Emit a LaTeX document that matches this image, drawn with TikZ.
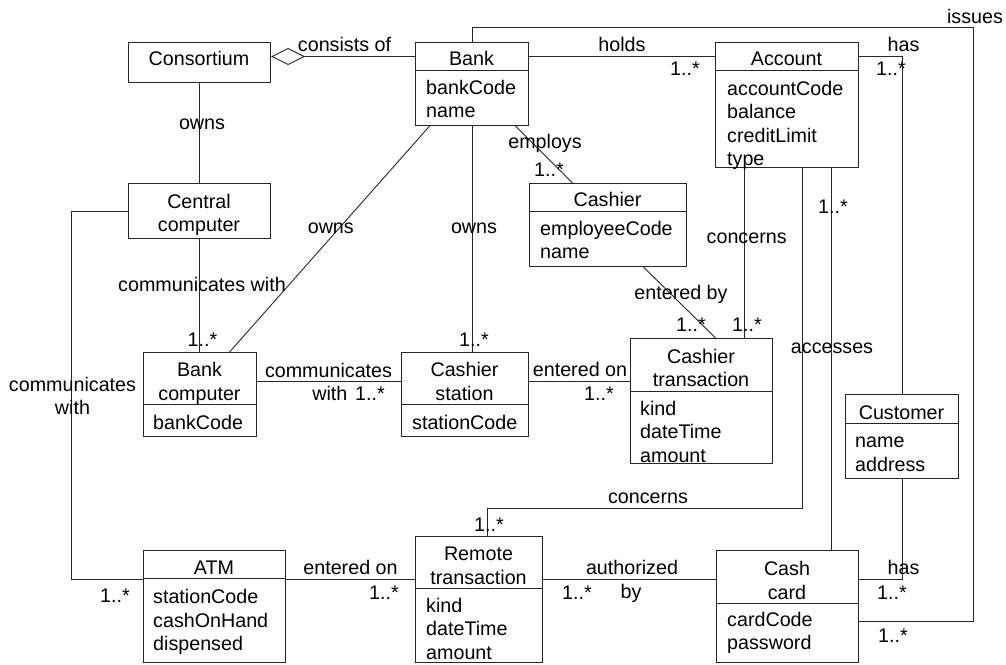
\documentclass[tikz,border=0pt]{standalone}
\usepackage{fontspec}
\setmainfont{Liberation Sans}
\usetikzlibrary{arrows.meta}
\begin{document}
\begin{tikzpicture}[x=1pt,y=-1pt,
  every node/.style={font=\fontsize{19.7}{23.5}\selectfont},
  cls/.style={draw=black!85, line width=1.1pt, inner sep=0pt, anchor=north west},
  ttl/.style={anchor=base, inner sep=0pt},
  attr/.style={anchor=base west, inner sep=0pt},
  lbl/.style={anchor=base, inner sep=0pt},
  assoc/.style={draw=black!85, line width=0.9pt}]
\useasboundingbox (0,0) rectangle (1006,664);

% ---------- classes ----------
\node[cls, minimum width=142pt, minimum height=40pt] (cons) at (128,42) {};
\node[cls, minimum width=142pt, minimum height=55pt] (cc) at (128,183) {};
\node[cls, minimum width=113pt, minimum height=28pt] (bankh) at (415,42) {};
\node[cls, minimum width=113pt, minimum height=55pt] (banka) at (415,70) {};
\node[cls, minimum width=143pt, minimum height=28pt] (acch) at (715,42) {};
\node[cls, minimum width=143pt, minimum height=97pt] (acca) at (715,70) {};
\node[cls, minimum width=157pt, minimum height=28pt] (cashrh) at (529,183) {};
\node[cls, minimum width=157pt, minimum height=55pt] (cashra) at (529,211) {};
\node[cls, minimum width=113pt, minimum height=52pt] (bch) at (143,352) {};
\node[cls, minimum width=113pt, minimum height=32pt] (bca) at (143,404) {};
\node[cls, minimum width=127pt, minimum height=52pt] (csh) at (401,352) {};
\node[cls, minimum width=127pt, minimum height=32pt] (csa) at (401,404) {};
\node[cls, minimum width=142pt, minimum height=53pt] (cth) at (630,338) {};
\node[cls, minimum width=142pt, minimum height=72pt] (cta) at (630,391) {};
\node[cls, minimum width=113pt, minimum height=29pt] (custh) at (845,394) {};
\node[cls, minimum width=113pt, minimum height=55pt] (custa) at (845,423) {};
\node[cls, minimum width=142pt, minimum height=28pt] (atmh) at (143,550) {};
\node[cls, minimum width=142pt, minimum height=84pt] (atma) at (143,578) {};
\node[cls, minimum width=127pt, minimum height=52pt] (remh) at (415,536) {};
\node[cls, minimum width=127pt, minimum height=74pt] (rema) at (415,588) {};
\node[cls, minimum width=142pt, minimum height=53pt] (cardh) at (716,550) {};
\node[cls, minimum width=142pt, minimum height=59pt] (carda) at (716,603) {};

% ---------- titles ----------
\node[ttl] (cons-t) at (199,65.7) {Consortium};
\node[ttl] (cc-t1) at (199,208.3) {Central};
\node[ttl] (cc-t2) at (199,231.7) {computer};
\node[ttl] (bank-t) at (471.5,65.7) {Bank};
\node[ttl] (acc-t) at (786.5,65.7) {Account};
\node[ttl] (cashr-t) at (607.5,206.7) {Cashier};
\node[ttl] (bc-t1) at (199.5,376.7) {Bank};
\node[ttl] (bc-t2) at (199.5,400) {computer};
\node[ttl] (cs-t1) at (464.5,376.7) {Cashier};
\node[ttl] (cs-t2) at (464.5,400.7) {station};
\node[ttl] (ct-t1) at (701,363.3) {Cashier};
\node[ttl] (ct-t2) at (701,386.7) {transaction};
\node[ttl] (cust-t) at (901.5,419) {Customer};
\node[ttl] (atm-t) at (214,574) {ATM};
\node[ttl] (rem-t1) at (478.5,560.7) {Remote};
\node[ttl] (rem-t2) at (478.5,584) {transaction};
\node[ttl] (card-t1) at (787,575) {Cash};
\node[ttl] (card-t2) at (787,599) {card};

% ---------- attributes ----------
\foreach \t [count=\i] in {bankCode,name}
  \node[attr] (bank-a\i) at (426,{94.7+23*(\i-1)}) {\t};
\foreach \t [count=\i] in {accountCode,balance,creditLimit,type}
  \node[attr] (acc-a\i) at (727,{95+23.6*(\i-1)}) {\t};
\foreach \t [count=\i] in {employeeCode,name}
  \node[attr] (cashr-a\i) at (540,{235.5+23*(\i-1)}) {\t};
\node[attr] (bc-a1) at (153,429) {bankCode};
\node[attr] (cs-a1) at (412,429) {stationCode};
\foreach \t [count=\i] in {kind,dateTime,amount}
  \node[attr] (ct-a\i) at (640,{415+23.5*(\i-1)}) {\t};
\foreach \t [count=\i] in {name,address}
  \node[attr] (cust-a\i) at (855,{447.3+24*(\i-1)}) {\t};
\foreach \t [count=\i] in {stationCode,cashOnHand,dispensed}
  \node[attr] (atm-a\i) at (153,{603.7+23.3*(\i-1)}) {\t};
\foreach \t [count=\i] in {kind,dateTime,amount}
  \node[attr] (rem-a\i) at (426,{612.3+23.4*(\i-1)}) {\t};
\foreach \t [count=\i] in {cardCode,password}
  \node[attr] (card-a\i) at (727,{626.7+23*(\i-1)}) {\t};

% ---------- connectors ----------
\draw[assoc, {Diamond[open,length=34pt,width=17pt]}-] (cons.east |- bankh.west) -- (bankh.west);
\draw[assoc] (bankh.east) -- (acch.west);
\draw[assoc] (acch.east) -| (custh.north);
\coordinate (issR) at (973,27);
\draw[assoc] (bankh.north) |- (issR) |- ([yshift=11.5pt]carda.east);
\draw[assoc] ([xshift=43.5pt]banka.south) -- ([xshift=-35.5pt]cashrh.north);
\draw[assoc] ([xshift=-42.5pt]banka.south) -- ([xshift=29.5pt]bch.north);
\draw[assoc] (banka.south) -- (banka.south |- csh.north);
\draw[assoc] (cons.south) -- (cc.north);
\draw[assoc] (cc.south) -- (cc.south |- bch.north);
\draw[assoc] (cc.west) -- ++(-57,0) |- (atmh.south west);
\draw[assoc] ([yshift=-3pt]bch.east) -- ([yshift=-3pt]bch.east -| csh.west);
\draw[assoc] ([yshift=-3pt]csh.east) -- ([yshift=-3pt]csh.east -| cth.west);
\draw[assoc] ([xshift=35.5pt]cashra.south) -- ([xshift=14pt]cth.north);
\draw[assoc] ([xshift=-42.5pt]acca.south) -- ([xshift=-42.5pt]acca.south |- cth.north);
\draw[assoc] ([xshift=15.5pt]acca.south) -- ++(0,340) -| ([xshift=8.5pt]remh.north);
\draw[assoc] ([xshift=44.5pt]acca.south) -- ([xshift=44.5pt]acca.south |- cardh.north);
\draw[assoc] (custa.south) |- ([yshift=-2pt]cardh.east);
\draw[assoc] (atmh.south east) -- (atmh.south east -| remh.west);
\draw[assoc] (atmh.south east -| remh.east) -- (atmh.south east -| cardh.west);

% ---------- labels ----------
\node[lbl] (l-cons) at (344.5,51.7) {consists of};
\node[lbl] (l-holds) at (622,51.7) {holds};
\node[lbl] (m-holds) at (685,75) {1..*};
\node[lbl] (l-has1) at (903.5,51.7) {has};
\node[lbl] (m-has1) at (891,75) {1..*};
\node[lbl] (l-issues) at (975,23.3) {issues};
\node[lbl] (l-employs) at (545,148.3) {employs};
\node[lbl] (m-employs) at (549,176.7) {1..*};
\node[lbl] (l-owns1) at (202,129.3) {owns};
\node[lbl] (l-owns2) at (330.8,233.3) {owns};
\node[lbl] (l-owns3) at (474,233.3) {owns};
\node[lbl] (l-cw1) at (202,291.7) {communicates with};
\node[lbl] (m-cw1) at (202.5,346.7) {1..*};
\node[lbl] (m-owns3) at (474,346.7) {1..*};
\node[lbl] (l-cw2a) at (72.5,391.7) {communicates};
\node[lbl] (l-cw2b) at (72.5,414) {with};
\node[lbl] (m-cw2) at (115,602.7) {1..*};
\node[lbl] (l-cw3a) at (328.5,377.3) {communicates};
\node[lbl] (l-cw3b) at (329.8,400.7) {with};
\node[lbl] (m-cw3) at (370,400.7) {1..*};
\node[lbl] (l-eon1) at (580,376.7) {entered on};
\node[lbl] (m-eon1) at (599,400.7) {1..*};
\node[lbl] (l-eby) at (681,299.3) {entered by};
\node[lbl] (m-eby) at (691,331.7) {1..*};
\node[lbl] (m-conc1) at (747,331.7) {1..*};
\node[lbl] (l-conc1) at (746.7,243.3) {concerns};
\node[lbl] (m-acc) at (833,213.3) {1..*};
\node[lbl] (l-acc) at (832,353.3) {accesses};
\node[lbl] (l-conc2) at (648,503.3) {concerns};
\node[lbl] (m-conc2) at (489,531.7) {1..*};
\node[lbl] (l-eon2) at (350.5,574) {entered on};
\node[lbl] (m-eon2) at (384,599.3) {1..*};
\node[lbl] (l-auth1) at (632,574) {authorized};
\node[lbl] (l-auth2) at (631,598) {by};
\node[lbl] (m-auth) at (577,599.3) {1..*};
\node[lbl] (l-has2) at (903.5,574) {has};
\node[lbl] (m-has2) at (892,599.3) {1..*};
\node[lbl] (m-issues) at (893,642.3) {1..*};
\end{tikzpicture}
\end{document}
